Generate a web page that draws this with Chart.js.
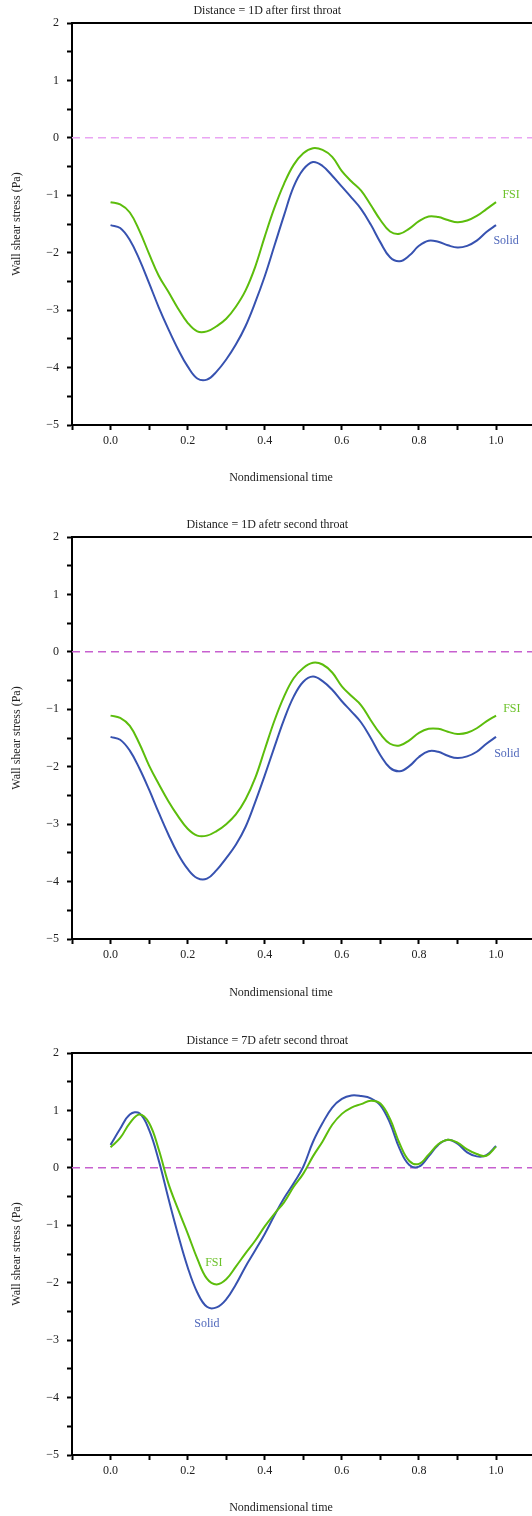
<!DOCTYPE html>
<html>
<head>
<meta charset="utf-8">
<script src="https://cdn.jsdelivr.net/npm/chart.js@4.4.1/dist/chart.umd.min.js"></script>
<style>
  html, body { margin: 0; padding: 0; background: #ffffff; overflow: hidden; width: 532px; height: 1516px; }
  .panel { position: absolute; left: 0; }
  canvas { display: block; }
</style>
</head>
<body>
<div class="panel" id="p1" style="top:0px"><canvas id="c1" width="562" height="514"></canvas></div>
<div class="panel" id="p2" style="top:514px"><canvas id="c2" width="562" height="516"></canvas></div>
<div class="panel" id="p3" style="top:1030px"><canvas id="c3" width="562" height="486"></canvas></div>
<script>
// ---------- DATA ----------
const TIME = [0, 0.025, 0.05, 0.075, 0.1, 0.125, 0.15, 0.175, 0.2, 0.225, 0.25, 0.275, 0.3, 0.325, 0.35, 0.375, 0.4, 0.425, 0.45, 0.475, 0.5, 0.525, 0.55, 0.575, 0.6, 0.625, 0.65, 0.675, 0.7, 0.725, 0.75, 0.775, 0.8, 0.825, 0.85, 0.875, 0.9, 0.925, 0.95, 0.975, 1.0];

const TITLES = ["Distance = 1D after first throat", "Distance = 1D afetr second throat", "Distance = 7D afetr second throat"];
const X_TITLE = "Nondimensional time";
const Y_TITLE = "Wall shear stress (Pa)";
const SERIES_NAMES = ["FSI", "Solid"];

// Panel 1: 1D after first throat
const FSI_1 = [-1.12, -1.16, -1.30, -1.62, -2.02, -2.40, -2.68, -2.97, -3.22, -3.37, -3.37, -3.28, -3.15, -2.94, -2.66, -2.25, -1.72, -1.22, -0.80, -0.47, -0.27, -0.18, -0.21, -0.33, -0.58, -0.76, -0.92, -1.17, -1.43, -1.63, -1.67, -1.58, -1.45, -1.37, -1.38, -1.43, -1.47, -1.44, -1.36, -1.24, -1.12];
const SOLID_1 = [-1.52, -1.57, -1.78, -2.12, -2.53, -2.95, -3.33, -3.68, -3.98, -4.19, -4.21, -4.07, -3.86, -3.60, -3.28, -2.87, -2.41, -1.88, -1.35, -0.85, -0.55, -0.42, -0.49, -0.66, -0.85, -1.04, -1.24, -1.51, -1.82, -2.08, -2.15, -2.05, -1.88, -1.79, -1.81, -1.87, -1.91, -1.88, -1.79, -1.64, -1.52];

// Panel 2: 1D after second throat
const FSI_2 = [-1.11, -1.15, -1.29, -1.60, -1.98, -2.30, -2.60, -2.86, -3.08, -3.20, -3.20, -3.12, -3.00, -2.83, -2.57, -2.20, -1.70, -1.20, -0.78, -0.46, -0.28, -0.19, -0.22, -0.36, -0.60, -0.77, -0.93, -1.19, -1.43, -1.60, -1.63, -1.54, -1.41, -1.34, -1.34, -1.39, -1.43, -1.41, -1.33, -1.21, -1.11];
const SOLID_2 = [-1.48, -1.53, -1.72, -2.03, -2.40, -2.80, -3.18, -3.52, -3.78, -3.94, -3.95, -3.80, -3.59, -3.36, -3.05, -2.62, -2.15, -1.66, -1.18, -0.78, -0.52, -0.43, -0.51, -0.66, -0.86, -1.04, -1.23, -1.50, -1.80, -2.02, -2.08, -1.99, -1.83, -1.73, -1.74, -1.81, -1.85, -1.82, -1.74, -1.60, -1.48];

// Panel 3: 7D after second throat
const FSI_3 = [0.36, 0.52, 0.78, 0.93, 0.78, 0.32, -0.27, -0.72, -1.14, -1.58, -1.93, -2.03, -1.94, -1.72, -1.49, -1.27, -1.02, -0.80, -0.60, -0.33, -0.10, 0.20, 0.46, 0.75, 0.94, 1.05, 1.11, 1.17, 1.12, 0.85, 0.42, 0.12, 0.07, 0.23, 0.41, 0.49, 0.44, 0.32, 0.24, 0.21, 0.37];
const SOLID_3 = [0.40, 0.68, 0.93, 0.95, 0.66, 0.13, -0.53, -1.16, -1.73, -2.17, -2.42, -2.43, -2.29, -2.03, -1.72, -1.44, -1.15, -0.83, -0.53, -0.27, 0.02, 0.45, 0.78, 1.05, 1.20, 1.26, 1.25, 1.21, 1.09, 0.78, 0.33, 0.05, 0.02, 0.20, 0.40, 0.49, 0.42, 0.27, 0.20, 0.22, 0.38];

// Axis ranges and ticks
const X_MIN = -0.1, X_MAX = 1.1, X_STEP = 0.1;
const Y_MIN = -5, Y_MAX = 2, Y_STEP = 0.5;
const REF_VALUE = 0;

// Label anchors (data coordinates) for the inline series labels
const LABEL_AT_1 = [[1.039, -0.99], [1.026, -1.79]];
const LABEL_AT_2 = [[1.041, -0.99], [1.028, -1.78]];
const LABEL_AT_3 = [[0.268, -1.65], [0.250, -2.71]];

// ---------- STYLE ----------
const FONT = "'Liberation Serif', 'DejaVu Serif', serif";
const FSI_COLOR = '#5cbd0c';
const SOLID_COLOR = '#3752b0';
const FSI_TEXT = '#6cc22a';
const SOLID_TEXT = '#5068bb';

const refLinePlugin = {
  id: 'refLine',
  beforeDatasetsDraw(chart, args, opts) {
    const { ctx, chartArea } = chart;
    const y = chart.scales.y.getPixelForValue(opts.value);
    ctx.save();
    ctx.beginPath();
    ctx.rect(chartArea.left, chartArea.top, chartArea.right - chartArea.left, chartArea.bottom - chartArea.top);
    ctx.clip();
    ctx.strokeStyle = opts.color;
    ctx.lineWidth = 1.5;
    ctx.setLineDash([8, 5]);
    ctx.beginPath();
    ctx.moveTo(chartArea.left, y);
    ctx.lineTo(chartArea.right, y);
    ctx.stroke();
    ctx.restore();
  }
};

const seriesLabelPlugin = {
  id: 'seriesLabels',
  afterDatasetsDraw(chart, args, opts) {
    const { ctx } = chart;
    ctx.save();
    ctx.font = '12px ' + FONT;
    ctx.textAlign = 'center';
    ctx.textBaseline = 'middle';
    opts.items.forEach(it => {
      ctx.fillStyle = it.color;
      ctx.fillText(it.text, chart.scales.x.getPixelForValue(it.at[0]), chart.scales.y.getPixelForValue(it.at[1]));
    });
    ctx.restore();
  }
};

const xTitlePlugin = {
  id: 'xTitle',
  afterDraw(chart, args, opts) {
    const { ctx } = chart;
    ctx.save();
    ctx.font = '12px ' + FONT;
    ctx.fillStyle = '#222222';
    ctx.textAlign = 'center';
    ctx.textBaseline = 'middle';
    ctx.fillText(opts.text, chart.width / 2, chart.scales.x.bottom - opts.fromBottom);
    ctx.restore();
  }
};

function fmtY(v) {
  if (Math.abs(v - Math.round(v)) > 1e-6) return '';
  const r = Math.round(v);
  return r < 0 ? '\u2212' + Math.abs(r) : String(r);
}
function fmtX(v) {
  const k = Math.round(v * 10);
  if (k >= 0 && k <= 10 && k % 2 === 0) return (k / 10).toFixed(1);
  return '';
}

function makeChart(id, title, fsi, solid, labelsAt, refColor, xAxisHeight, xTitleFromBottom) {
  const pts = arr => TIME.map((t, i) => ({ x: t, y: arr[i] }));
  return new Chart(document.getElementById(id), {
    type: 'line',
    data: {
      datasets: [
        { label: SERIES_NAMES[0], data: pts(fsi), borderColor: FSI_COLOR, borderWidth: 2, pointRadius: 0, tension: 0.4, fill: false },
        { label: SERIES_NAMES[1], data: pts(solid), borderColor: SOLID_COLOR, borderWidth: 2, pointRadius: 0, tension: 0.4, fill: false }
      ]
    },
    options: {
      responsive: false,
      animation: false,
      devicePixelRatio: 1,
      layout: { padding: { left: 0, right: 27.4, top: 0, bottom: 0 } },
      plugins: {
        legend: { display: false },
        tooltip: { enabled: false },
        title: { display: true, text: title, color: '#222222', font: { family: FONT, size: 12, weight: 'normal' }, padding: { top: 4, bottom: 4.6 } },
        refLine: { value: REF_VALUE, color: refColor },
        seriesLabels: { items: [
          { text: SERIES_NAMES[0], at: labelsAt[0], color: FSI_TEXT },
          { text: SERIES_NAMES[1], at: labelsAt[1], color: SOLID_TEXT }
        ] },
        xTitle: { text: X_TITLE, fromBottom: xTitleFromBottom }
      },
      scales: {
        x: {
          type: 'linear', position: 'bottom', min: X_MIN, max: X_MAX,
          afterFit(scale) { scale.height = xAxisHeight; },
          ticks: { stepSize: X_STEP, autoSkip: false, maxRotation: 0, color: '#222222', font: { family: FONT, size: 12 }, padding: 4, callback: fmtX },
          grid: { drawOnChartArea: false, drawTicks: true, tickLength: 5, tickWidth: 2, tickColor: '#000000' },
          border: { display: true, color: '#000000', width: 2 }
        },
        xTop: {
          type: 'linear', position: 'top', min: X_MIN, max: X_MAX,
          afterFit(scale) { scale.height = 0; },
          ticks: { display: false },
          grid: { drawOnChartArea: false, drawTicks: false },
          border: { display: true, color: '#000000', width: 2 }
        },
        y: {
          type: 'linear', position: 'left', min: Y_MIN, max: Y_MAX,
          afterFit(scale) { scale.width = 72; },
          ticks: { stepSize: Y_STEP, autoSkip: false, color: '#222222', font: { family: FONT, size: 12 }, padding: 8, callback: fmtY },
          grid: { drawOnChartArea: false, drawTicks: true, tickLength: 5, tickWidth: 2, tickColor: '#000000' },
          border: { display: true, color: '#000000', width: 2 },
          title: { display: true, text: Y_TITLE, color: '#222222', font: { family: FONT, size: 12 }, padding: { top: 10, bottom: 0 } }
        }
      }
    },
    plugins: [refLinePlugin, seriesLabelPlugin, xTitlePlugin]
  });
}

makeChart('c1', TITLES[0], FSI_1, SOLID_1, LABEL_AT_1, '#eaa5f3', 89, 36);
makeChart('c2', TITLES[1], FSI_2, SOLID_2, LABEL_AT_2, '#c760cf', 91, 37);
makeChart('c3', TITLES[2], FSI_3, SOLID_3, LABEL_AT_3, '#c760cf', 61, 8);
</script>
</body>
</html>
